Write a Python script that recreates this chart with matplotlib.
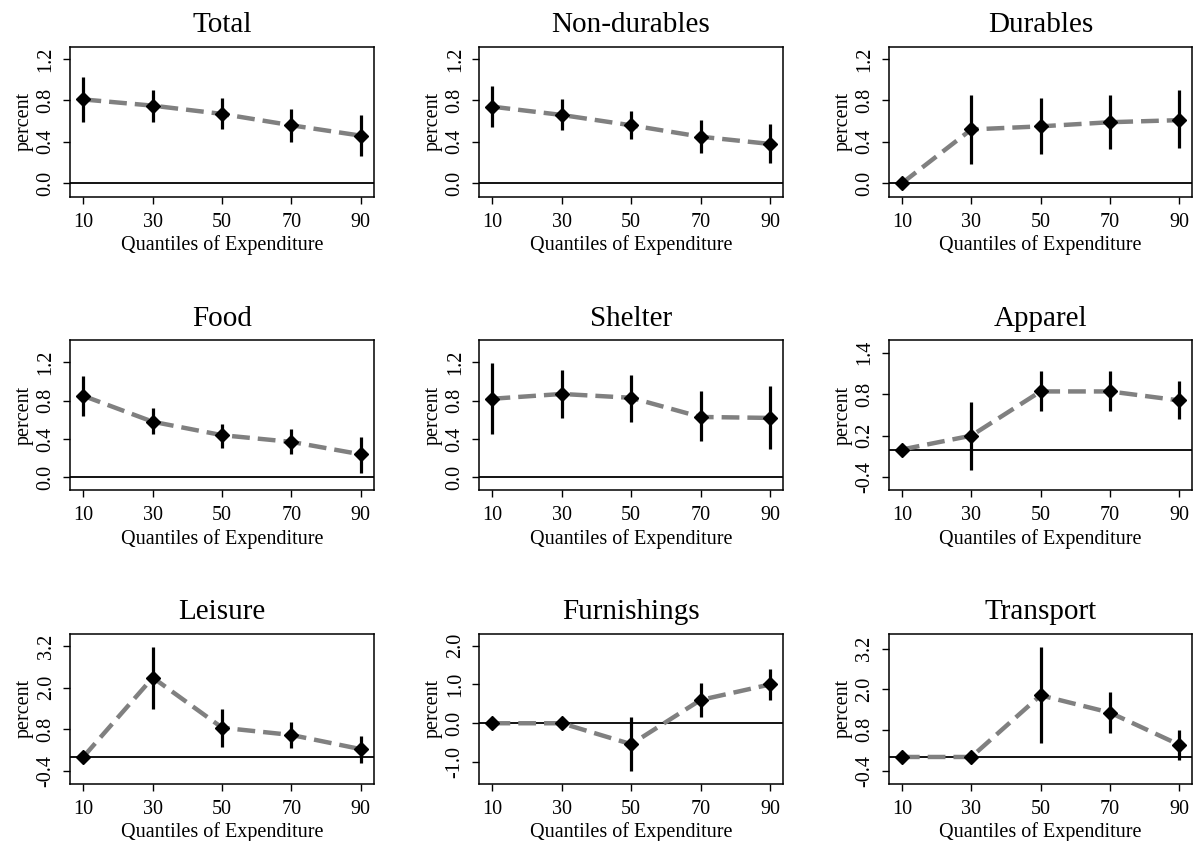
import matplotlib
matplotlib.use("Agg")
import matplotlib.pyplot as plt
import numpy as np

plt.rcParams['font.family'] = ['Liberation Serif', 'DejaVu Serif']

quantiles = [10, 30, 50, 70, 90]

titles = ["Total", "Non-durables", "Durables",
          "Food", "Shelter", "Apparel",
          "Leisure", "Furnishings", "Transport"]

# point estimates and confidence bands (percent)
est = {
    "Total":        [0.81, 0.75, 0.67, 0.56, 0.46],
    "Non-durables": [0.74, 0.66, 0.56, 0.45, 0.38],
    "Durables":     [0.00, 0.52, 0.55, 0.59, 0.61],
    "Food":         [0.85, 0.58, 0.44, 0.37, 0.24],
    "Shelter":      [0.82, 0.87, 0.83, 0.63, 0.62],
    "Apparel":      [0.00, 0.20, 0.84, 0.84, 0.71],
    "Leisure":      [0.00, 2.29, 0.84, 0.63, 0.22],
    "Furnishings":  [0.00, 0.00, -0.54, 0.60, 1.00],
    "Transport":    [0.00, 0.00, 1.82, 1.31, 0.36],
}
lower = {
    "Total":        [0.59, 0.59, 0.52, 0.40, 0.26],
    "Non-durables": [0.54, 0.51, 0.43, 0.29, 0.20],
    "Durables":     [0.00, 0.19, 0.28, 0.33, 0.34],
    "Food":         [0.64, 0.45, 0.31, 0.24, 0.05],
    "Shelter":      [0.45, 0.62, 0.58, 0.38, 0.30],
    "Apparel":      [0.00, -0.29, 0.55, 0.55, 0.44],
    "Leisure":      [0.00, 1.38, 0.29, 0.24, -0.17],
    "Furnishings":  [0.00, 0.00, -1.22, 0.16, 0.60],
    "Transport":    [0.00, 0.00, 0.41, 0.72, -0.09],
}
upper = {
    "Total":        [1.03, 0.90, 0.82, 0.72, 0.66],
    "Non-durables": [0.94, 0.81, 0.70, 0.61, 0.57],
    "Durables":     [0.00, 0.85, 0.82, 0.85, 0.90],
    "Food":         [1.06, 0.72, 0.56, 0.50, 0.42],
    "Shelter":      [1.19, 1.12, 1.07, 0.90, 0.95],
    "Apparel":      [0.00, 0.69, 1.13, 1.13, 0.99],
    "Leisure":      [0.00, 3.18, 1.39, 1.00, 0.60],
    "Furnishings":  [0.00, 0.00, 0.17, 1.03, 1.39],
    "Transport":    [0.00, 0.00, 3.26, 1.91, 0.79],
}

yticks = {
    "Total": [0.0, 0.4, 0.8, 1.2],
    "Non-durables": [0.0, 0.4, 0.8, 1.2],
    "Durables": [0.0, 0.4, 0.8, 1.2],
    "Food": [0.0, 0.4, 0.8, 1.2],
    "Shelter": [0.0, 0.4, 0.8, 1.2],
    "Apparel": [-0.4, 0.2, 0.8, 1.4],
    "Leisure": [-0.4, 0.8, 2.0, 3.2],
    "Furnishings": [-1.0, 0.0, 1.0, 2.0],
    "Transport": [-0.4, 0.8, 2.0, 3.2],
}
ylims = {
    "Total": (-0.13, 1.32),
    "Non-durables": (-0.13, 1.32),
    "Durables": (-0.13, 1.32),
    "Food": (-0.135, 1.43),
    "Shelter": (-0.135, 1.43),
    "Apparel": (-0.59, 1.58),
    "Leisure": (-0.78, 3.56),
    "Furnishings": (-1.56, 2.31),
    "Transport": (-0.79, 3.64),
}

fig = plt.figure(figsize=(11.95, 8.41), dpi=100)

lefts = [0.0588, 0.4011, 0.7437]
bottoms = [0.7661, 0.4170, 0.0681]
w, h = 0.2539, 0.1784

for i, name in enumerate(titles):
    r, c = divmod(i, 3)
    ax = fig.add_axes([lefts[c], bottoms[r], w, h])
    y = np.array(est[name])
    lo = np.array(lower[name])
    hi = np.array(upper[name])

    ax.axhline(0, color='black', lw=1.3, zorder=1)
    ax.plot(quantiles, y, color='#808080', lw=3.2, dashes=[4, 1.8], zorder=2)
    ax.vlines(quantiles, lo, hi, color='black', lw=2.3, zorder=3)
    ax.plot(quantiles, y, 'D', color='black', ms=7, zorder=4)

    ax.set_xlim(6.2, 93.7)
    ax.set_ylim(*ylims[name])
    ax.set_xticks(quantiles)
    ax.set_yticks(yticks[name])
    ax.set_yticklabels(["%.1f" % t for t in yticks[name]], rotation=90, va='center')
    ax.tick_params(axis='both', labelsize=14.5, length=5, width=1.0, direction='out')
    ax.tick_params(axis='y', pad=5.5)
    ax.tick_params(axis='x', pad=6.5)
    ax.set_title(name, fontsize=21, pad=10.5)
    ax.set_xlabel("Quantiles of Expenditure", fontsize=14.5, labelpad=2.5)
    ax.set_ylabel("percent", fontsize=14.5, labelpad=2)
    for s in ax.spines.values():
        s.set_linewidth(1.1)

fig.savefig("out.png", dpi=100)
